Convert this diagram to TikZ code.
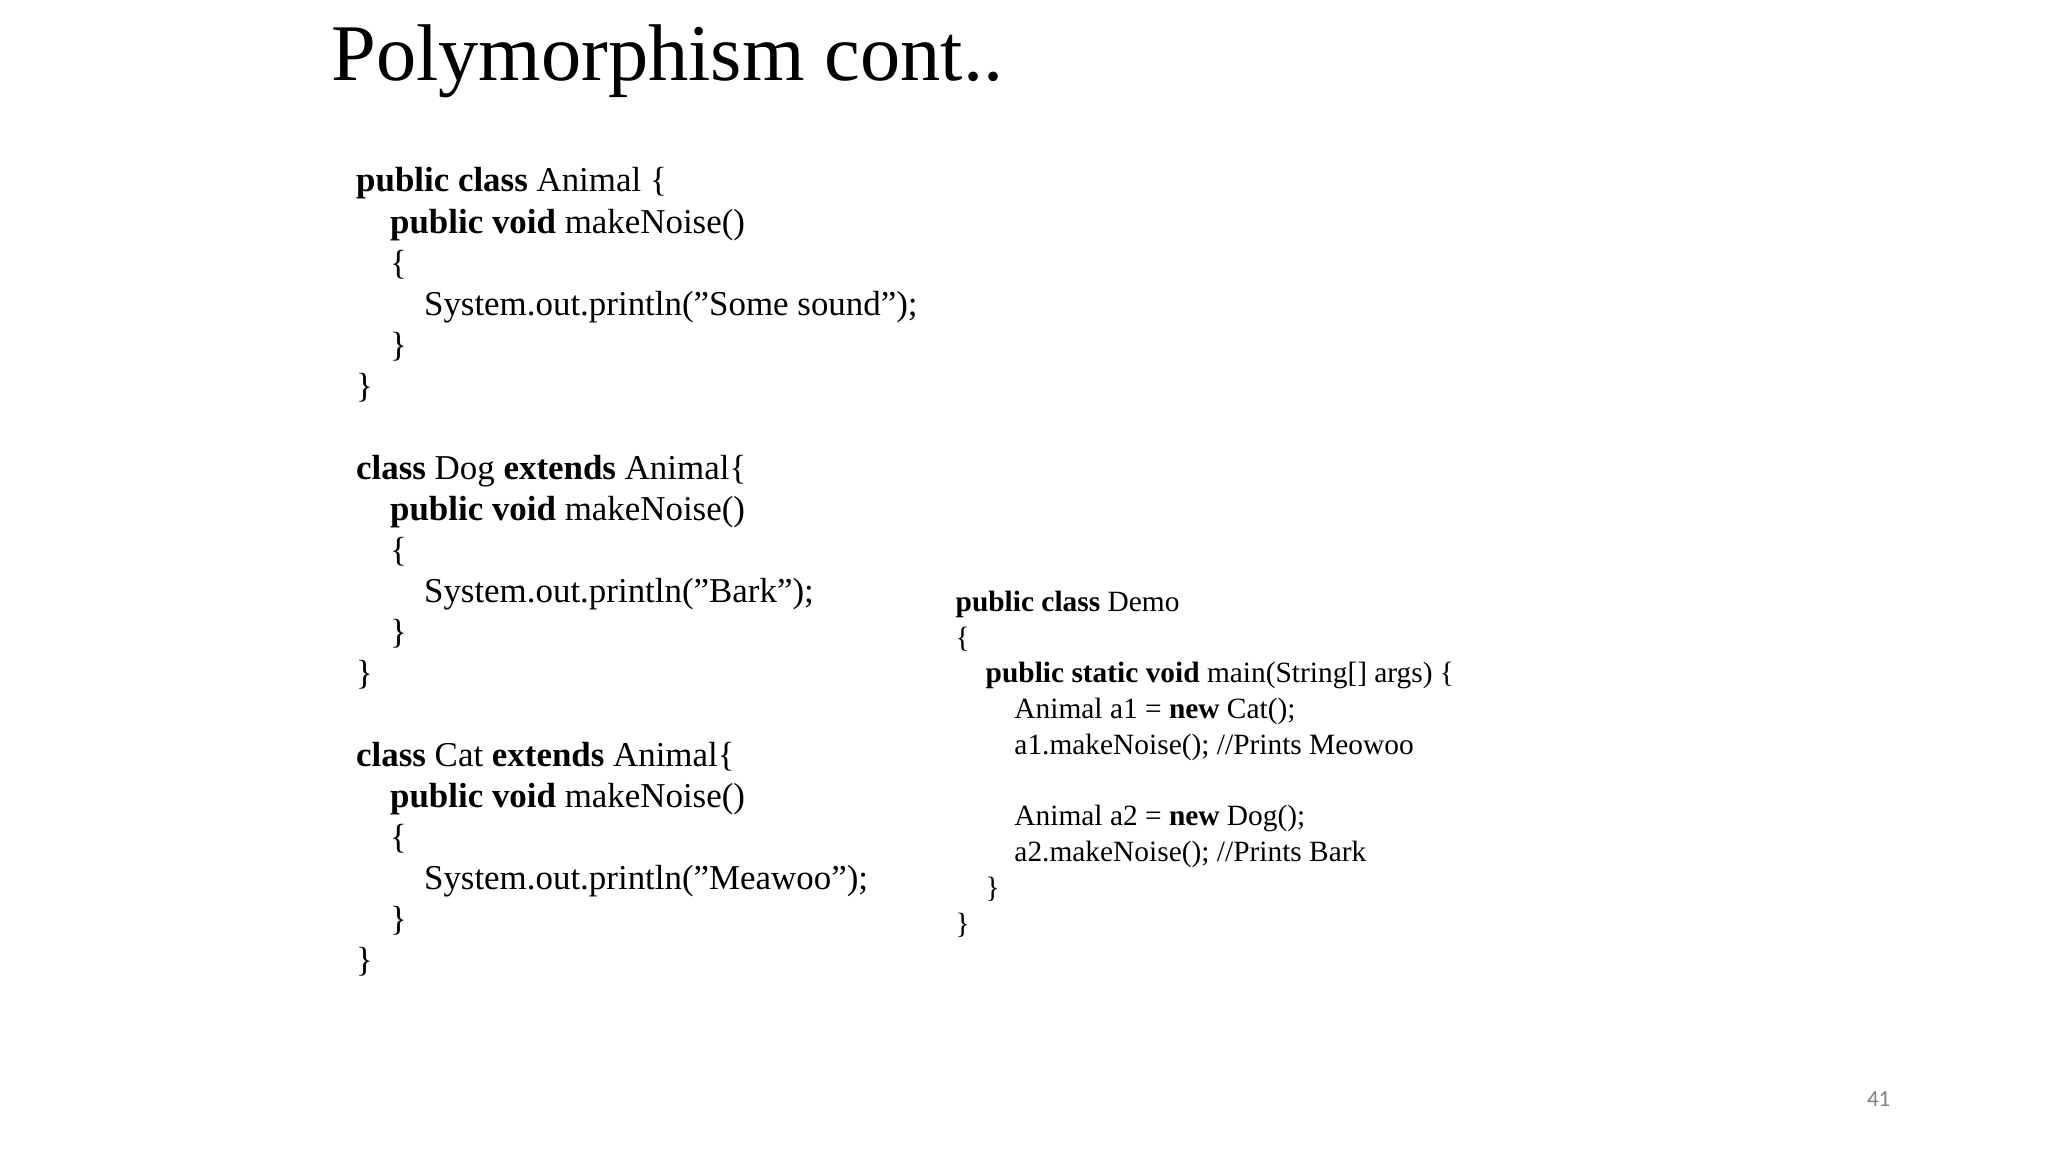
\documentclass[tikz,border=0pt]{standalone}
\usepackage{fontspec}
\setmainfont{Liberation Serif}
\newfontfamily\pgnum{Carlito}
\begin{document}
\begin{tikzpicture}[x=0.01cm,y=-0.01cm,
 code/.style={anchor=base west,inner sep=0pt,font=\fontsize{7.6pt}{9pt}\selectfont},
 demo/.style={anchor=base west,inner sep=0pt,font=\fontsize{6.4pt}{8pt}\selectfont}]
\useasboundingbox (0,0) rectangle (1568,882);
\node[anchor=base west,inner sep=0pt,font=\fontsize{17.5pt}{20pt}\selectfont] (title) at (253,62) {Polymorphism cont..};
\def\L{31.4}
\node[code] (l1) at (272,147) {\textbf{public class} Animal \{};
\node[code] (l2) at (298,178.4) {\textbf{public void} makeNoise()};
\node[code] (l3) at (298,209.8) {\{};
\node[code] (l4) at (324,241.2) {System.out.println("Some sound");};
\node[code] (l5) at (298,272.6) {\}};
\node[code] (l6) at (272,304) {\}};
\node[code] (d1) at (272,366.8) {\textbf{class} Dog \textbf{extends} Animal\{};
\node[code] (d2) at (298,398.2) {\textbf{public void} makeNoise()};
\node[code] (d3) at (298,429.6) {\{};
\node[code] (d4) at (324,461) {System.out.println("Bark");};
\node[code] (d5) at (298,492.4) {\}};
\node[code] (d6) at (272,523.8) {\}};
\node[code] (c1) at (272,586.6) {\textbf{class} Cat \textbf{extends} Animal\{};
\node[code] (c2) at (298,618) {\textbf{public void} makeNoise()};
\node[code] (c3) at (298,649.4) {\{};
\node[code] (c4) at (324,680.8) {System.out.println("Meawoo");};
\node[code] (c5) at (298,712.2) {\}};
\node[code] (c6) at (272,743.6) {\}};
\node[demo] (m1) at (731,468) {\textbf{public class} Demo};
\node[demo] (m2) at (731,495.4) {\{};
\node[demo] (m3) at (754,522.8) {\textbf{public static void} main(String[] args) \{};
\node[demo] (m4) at (776,550.2) {Animal a1 = \textbf{new} Cat();};
\node[demo] (m5) at (776,577.6) {a1.makeNoise(); //Prints Meowoo};
\node[demo] (m6) at (776,632.4) {Animal a2 = \textbf{new} Dog();};
\node[demo] (m7) at (776,659.8) {a2.makeNoise(); //Prints Bark};
\node[demo] (m8) at (754,687.2) {\}};
\node[demo] (m9) at (731,714.6) {\}};
\node[anchor=base east,inner sep=0pt,text=gray,font=\pgnum\fontsize{5pt}{6pt}\selectfont] (pg) at (1448,847) {41};
\end{tikzpicture}
\end{document}
